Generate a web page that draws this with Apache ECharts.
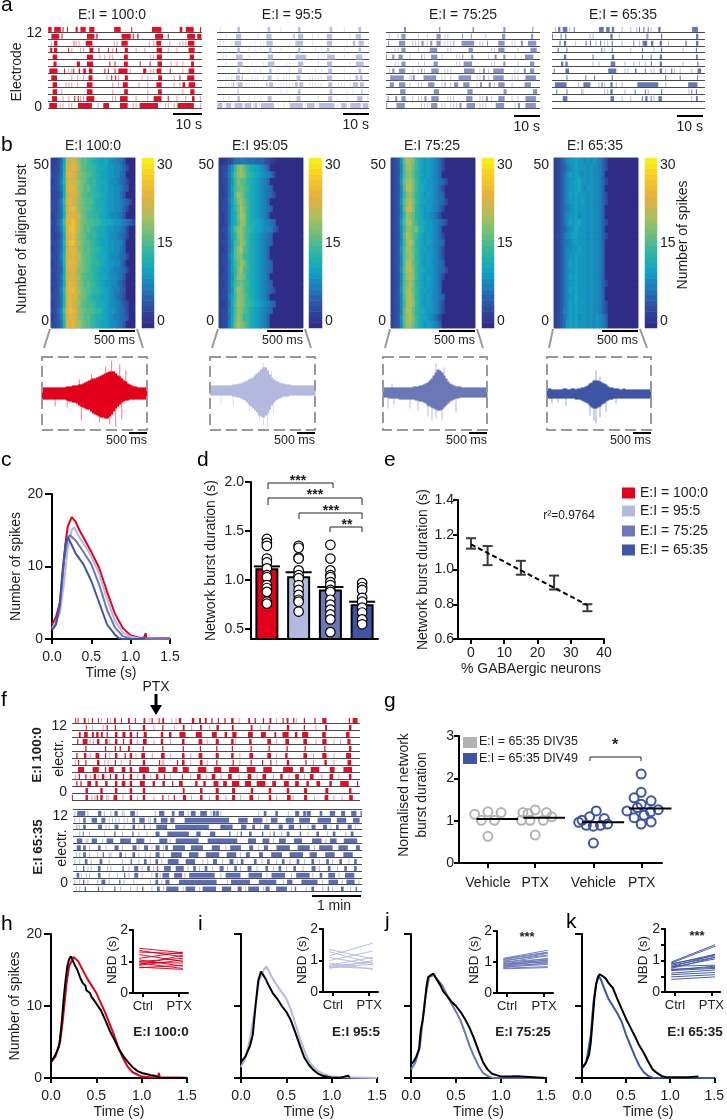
<!DOCTYPE html>
<html><head><meta charset="utf-8">
<script src="https://cdn.jsdelivr.net/npm/echarts@6/dist/echarts.min.js"></script>
<style>html,body{margin:0;padding:0;background:#fff}#c{width:727px;height:1120px}</style></head>
<body><div id="c"></div><script>
// ---------- panel a rasters: rows top to bottom, solid = start,end pairs (s), faint = tick times (s)
const aSolid100=[
[0,1.3,2,4.5,5,5.3,6.5,6.8,9.4,10.2,11,13,14,16,22.5,25,28.5,28.8,35.4,39,45,46,47,50,52,52.4],
[1,4,4.6,5,13.2,16,16.5,17,25,28.5,29,29.4,30.5,31,36.5,39.5,41,41.3,47.5,50.5,51,52.6],
[2,3.3,12.8,15.3,25,27.4,37,38.8,47.8,50.2],
[.7,1.5,2,3.2,6.9,7.2,14.1,15.6,17.3,17.6,20.5,20.8,23.3,23.6,26.2,27.4,37.1,39.1,48,50.3],
[1.5,3.2,13.2,15.5,25.9,27.4,37.1,39.1,48.4,50.1],
[1.8,3,9.8,11,13.2,15.6,21,21.3,22.8,23.1,25.9,27.4,31.4,31.7,34.8,35.1,37.4,39.1,48.9,50],
[.3,3.4,5.5,5.8,8.6,9,10.5,11,12,13,13.9,15.3,19.3,19.6,20.5,20.8,22.8,23.1,24,27.4,32.5,33.7,37.1,38.9,41.7,42,48,50.2],
[1,3.2,13.8,15.3,21.6,22,23,23.3,26.2,27.4,37.6,39.1,45,45.3,47.5,50.2],
[1.5,3.2,13.2,15.3,25.5,27.4,37,39,46,47,48,50.5],
[1.5,3.2,13.2,15.3,26,27.4,37.6,39,48.6,50.2],
[1.3,3.2,9,9.3,10.2,10.5,13,16,24.5,27.4,36,39,41,41.3,49.2,50.2],
[.3,3.2,10,15.3,18.8,21,24.5,27.4,31,38,44,50.2]];
const aFaint100=[[],[],[1,8.5,9,9.5,10.5,22.5,23.5,34.5,36,41.5,45,46,47],[8,11,12,22,30,33,41,44],[17.6,19.3,21,22,35,36],[42,44,46],[7,8,24,28,35,36,46],[8,10,12,20,24,32,34,43],[6,7,8,10,22,24,31,34,43,45],[4.5,22,34,46],[5,7,11,12,22,23,30,34,44,47,52],[4,5,7,8,17,29,30,40,41,43,52]];
const aSolid95=[
[7,8,17.5,18.5,28,29,39,40,49,50],
[6.5,8.5,17,19,26.5,27,28,30,38,40,48,50],
[6,8.5,17,19.5,27,30,38,40,47,48,49,51],
[7,8,18,19,28,29,38,39,49,50],
[6.5,9,17.5,19.5,27,31,38,41,48,50.5],
[7,9,17.5,20,28,30,38,40,48,51],
[7,8,18,19,28,29.5,38.5,40,49,50],
[6.5,8,8.5,9,17.5,19,27.5,29,38,40,48,49,49.5,50.5],
[5.5,6,7,9,17,17.5,18,19.5,27,28,28.5,30,38.5,40,47,49,49.5,51],
[7,7.5,28,29,39,40,50,50.5],
[7,8,17.5,19,27.5,29,38.5,40,48.5,50.5],
[0,2,3,5,6,9,9.5,12,13,14,15,20,25,30,31,34,35,41,43,45,46,50,50.5,52.6]];
const aFaint95=[[1,22,44],[3,14,26,33,35,46],[1,2,5,13,15,16,25,33,45],[2,3,11,13,15,22,34,36,44],[2,3,11,25,31,35,36,37,44],[3,12,16,24,25,35,46],[11,13,15,21,25,34,36,44],[3,4,5,12,13,14,16,21,23,24,25,32,33,34,35,36,44,46],[3,4,5,10,11,12,13,14,22,23,24,25,26,32,33,34,35,36,42,43,44,46],[22,24,45,47],[2,4,11,13,15,25,35,45,52],[2.5,5.5,9.2,12.5,14.5,21,23,30.5,34.5,41.5,42.5,45.5,50.2]];
const aSolid75=[
[6,7,18,18.7,29.5,30.2,40,41,50,50.5],
[5,7,17,19,26,26.4,29,29.4,39.5,41,49.5,50.5],
[0.7,1,4,7,12,13,15,16,17,19,23,23.4,25,31,34.5,35,38,41,46,47,48,52],
[5,7,14.5,18,28,30,38,41,49,52],
[0,.4,2,3,4,6,12,12.4,15,18,26,26.5,29,30,37,38,40,41,47,51],
[5,7,16,18,26,30,40,41,49,51],
[2,3,4,7,12,12.4,15,18.5,26,31,33,34,36,41,47,48,49,51],
[.5,7,9,10,12,18,24,30,33,34,36,41,47,52],
[1,3,4,7,14,17,20,20.4,23,25,26,29,32,33,35,36,38,41,47,50],
[4.5,7,16,18.5,27.5,30,40,41.5,50,52],
[.5,1,3,4,5,7,13,14,15,18.5,27,30,34,35,38,41,47,52],
[0,.5,3,7,15,18,25,26,27,31,37,41,45,46,47,52]];
const aFaint75=[[],[1,4,11,14,20,21,34],[9,10,11,14,20,21,22,32,33,43,44],[3,4,11,21,22,36,37,45],[8,13,19,24,25,35,44],[3,4,11,13,24,25,36,37,45],[1,9,11,12,13,20,21,22,32,35,44,45],[8,8.5,19,20,22,31,32,35,43,44,45],[6,8,11,12,19,22,31,37,43],[],[9,11,12,21,22,23,32,33,36,43,45],[12,13,14,19,20,22,23,24,32,33,34,44]];
const aSolid65=[
[2,3,3.5,5.5,7.5,7.8,16,18,18.5,20,20.5,21.5,30,30.3,31.5,31.8,33,33.3,36.5,37.5,48,50.5],
[0,.3,3,3.3,4.5,5,20,21,32.5,33,37.5,38,49.5,50.5],
[2.5,3,4,5,11.5,12,13,13.5,16.5,17,20.5,21,28,28.3,31,33,34,35,37,38,46,46.3,49.5,50.5],
[2,2.3,5,5.3,17,17.3,20.5,21,31,31.3,37.5,38,49.5,50],
[4,5,14,14.3,20.5,21.5,31,31.3,34,34.3,37,38,49.5,50.3],
[3,4,4.5,5.5,20,22,34,34.5,37,38,50,50.5],
[.6,.9,4.5,6,19,22.5,28.5,29,32,32.3,37,38,41,41.5,50,51.5],
[5,5.3,11.5,11.8,14.5,14.8,20.5,21,39,39.3,44,44.3,50,50.3],
[.5,5.5,10.5,13.5,17,17.5,20,21,28.5,37.5,46.5,50.5],
[1.5,1.8,5,5.3,20,21,28.5,28.8,32,32.3,37.5,38,48,48.3,49.5,50],
[3.5,5.5,20,21.5,31,31.3,32,33,34,34.3,36.5,38,49.5,50.3],
[]];
const aFaint65=[[1,6,24,27,29,34],[13,14,23,33],[8,15,18,19,24,30,32,40,46],[2,18,27,35,45],[],[14,16,25,28,30,32,45],[25,26,29,34,35,39,42,44,48],[],[9,16,18,22,24,39],[10,10.5,18,19,25,33,47],[24,27,35,48],[]];
// ---------- panel f rasters, seconds
const fSolid100=[
[4,5,7,8,14,17,24,26,32,33,43,44,51,54,60,61,68,71,77,78,87,90,97,99,106,107,110,113,130,134,146,150,155,158,162,165,170,172,178,180,186,188,194,198,215,218,223,225,233,235,241,244,257,259,262,265,270,272,283,285,296,298,305,312,338,340,342,350],
[17,18,42,44,52,54,70,71,86,90,110,112,135,138,156,159,176,180,195,198,218,221,240,242,262,266,283,285,309,312,338,342],
[8,11,14,20,24,27,29,33,35,38,42,44,52,56,61,66,70,74,79,81,87,92,108,112,118,122,130,140,150,160,170,178,186,190,195,202,214,222,230,238,247,250,256,266,272,276,280,290,305,311,334,340],
[6,8,12,20,30,34,40,44,52,56,62,64,70,74,86,92,108,112,134,138,154,160,175,180,194,198,216,220,238,244,260,266,282,288,305,312,336,341],
[16,18,40,42,52,54,58,60,68,71,86,88,110,112,135,137,156,158,176,178,195,197,218,220,240,242,262,264,284,286,308,310,338,342],
[5,7,14,18,28,34,40,42,52,56,64,66,70,74,84,90,108,114,134,138,154,160,175,180,194,198,216,222,238,244,260,264,282,288,305,312,334,342],
[7,9,16,18,30,34,52,54,70,72,86,90,106,108,128,130,134,138,156,160,176,178,196,198,218,220,232,234,242,244,262,266,285,287,308,312,336,342],
[6,16,24,34,40,42,44,52,60,66,70,74,80,96,104,116,122,130,134,144,152,166,172,184,190,206,212,226,232,246,256,272,278,284,290,304,314,322,330,344],
[8,10,16,18,26,30,36,40,46,48,52,56,62,64,70,74,86,90,102,106,112,114,134,136,152,158,170,176,190,196,214,220,232,238,254,258,272,278,290,296,314,320,338,342],
[5,7,10,12,18,24,28,32,40,44,52,56,60,66,70,74,82,90,98,102,110,114,122,124,130,136,150,154,160,164,172,180,184,190,194,206,210,220,224,238,244,250,258,266,272,278,286,290,298,304,314,318,326,340,348,350],
[16,20,34,38,52,56,70,74,86,90,135,138,156,160,175,180,195,200,218,222,240,244,262,266,283,288,309,314,338,342],
[0,1,16,20,30,32,34,38,50,56,70,74,86,90,110,112,124,126,135,140,156,160,175,180,195,200,216,222,240,244,262,268,283,288,308,314,338,344]];
const fFaint100=[[20,36,47,95,122,127,204,250,274],[25,38,100,125,146,168,230,298],[],[22,26,46,80,100,120,165,200,250,298,320,328],[],[22,46,78,98,120,145,205,250,295,320],[4,40,44,60,110,112,145,165,205,250,295,320],[],[4,22,32,80,96,120,145,164,182,204,226,246,265,284,305,326],[],[],[24,28,42,44,62,80,100,118,146,168,188,206,228,250,270,296,320,330]];
const fSolid65=[
[4,16,30,35,50,55,69,76,104,112,120,124,128,136,143,150,154,164,170,174,174,178,232,236,246,250,270,276,284,290,300,304,280,284,312,320,326,332,338,346,350,352],
[12,16,22,30,34,40,72,76,80,88,98,102,106,116,118,124,130,196,200,214,218,232,240,250,258,270,274,290,296,316,320,334,340,350],
[12,16,30,36,50,56,72,76,86,88,100,116,120,170,178,196,204,212,218,222,232,240,250,256,262,270,276,278,290,296,304,310,320,324,334,340],
[12,13,50,52,72,74,100,106,112,144,150,156,166,174,190,192,204,206,214,218,230,232,244,246,260,264,276,278,296,300,316,320,338,342],
[4,12,22,30,40,50,56,72,76,88,104,116,122,156,160,204,212,224,230,240,250,260,268,280,290,304,312,322,328,348],
[4,10,12,16,30,34,50,56,72,78,86,92,100,106,112,116,120,138,142,160,168,180,190,206,214,220,232,238,246,266,272,290,298,318,322,336,344,350],
[12,16,36,38,56,60,72,76,100,106,118,134,140,154,160,180,186,200,210,216,226,232,240,256,262,282,288,298,306,320,328,342],
[14,18,32,36,70,72,86,90,100,104,114,130,136,150,170,176,190,196,204,208,220,224,236,240,254,258,272,276,290,294,308,312,324,328,342,346],
[12,14,30,34,60,62,74,80,90,94,102,104,110,120,124,136,146,150,160,164,178,184,196,200,212,218,234,238,250,254,268,272,290,296,310,314,330,334,342,346],
[4,8,30,34,62,64,74,80,100,104,108,118,122,134,138,176,184,206,212,232,240,260,270,290,300,304,310,320,330,344],
[12,14,34,40,56,58,100,104,112,118,124,180,190,218,224,250,260,268,276,300,310,324,332,344],
[14,16,30,32,50,52,84,86,102,106,112,130,136,150,156,176,180,194,200,206,212,228,234,240,246,262,270,272,290,294,310,312,326,330,344,346]];
const fFaint65=[[2,18,38,46,60,62,78,100,140,168,180,226,262],[2,8,44,48,52,56,62,66,92,94,236],[4,6,8,40,44,62,80,94,180,184,228,286,314,344],[8,20,38,60,80,90,150,200,240,254,286,310,332],[16,18,36,60,82,94,118,166,244,308],[8,20,40,60,80,96,110,186,226,280,294],[4,8,20,30,44,46,64,80,88,94,110,204,288],[2,8,22,44,60,80,94,108,158,164,182,200,230,248,264,282,300,316,336],[4,18,22,42,46,68,84,98,140,154,170,188,204,224,244,260,280,300,322],[10,16,20,44,54,68,84,96,106,136,180,236,266,292,324],[2,8,18,30,44,62,74,94,108,188,256,304,328,348],[4,8,36,58,70,78,96,110,134,154,184,210,232,266,284,304,316,338]];
// ---------- panel b heat maps: one string per row, top row first, one base-36 digit per time bin
const heat100=[
"2235bkmnkifgedcbaab988764000","2336cmnomjgfeedcbba998875300","3346dmonlihgfedcbaa998865000","2347dlnmkjhgedecbba988765300","3346cmoolihfgedcbab998875400",
"2335cknnmjgfeeddcba998864000","3347emomkihgffdcbba998876530","3346dloplihgfedccba998875300","2346cmnomkhgeeddbba988764000","3358fnoqnjhgffeedcbba9987653",
"2347dmpqmjhfgedcbba998876300","2235cmoplihgedecbba988765300","3346dmpqljhgfedcbaa998875000","2346cloomihfgeddcba998865000","3347dmnolkhgfedcbba988765300",
"2346dmoomjhgfeddcba998864000","3345cmnolihgfedcbaa987765300","2346dlnnkjgfeedcbba988764000","3346cmoolihfgedcba998865300","2347emopljhgfeddcba987754000",
"3346dlonmihgedccbaa987653000","2346dmonkjgfeedcbba988764300","3358fnpomihgffeddba998765300","2347emoolihfgedccba987765400","3346dmnolkhgfedcbaa988764000"];
const heat95=[
"1123466776665554321000000000","23369eijgecba987500000000000","2347afijhedcba98763000000000","23369eigfdcba987500000000000","2236aeghfecba987650000000000",
"22369fjifdcba987653000000000","2337aehjgecba987500000000000","2336adgkhecba987650000000000","2236acgkiecba987500000000000","2236acfjieccba98765000000000",
"2337bfijgedcaa98875300000000","2236adhjgecba987650000000000","23369egjhecba987650000000000","22369fikfecba987500000000000","2337afhiedcba987500000000000",
"2336aegjhecba987650000000000","2236adhkfecba987650000000000","23369eiigdcba987500000000000","2236aeghfecba987650000000000","23369fjifdcba987653000000000",
"2337aeiigecba987500000000000","2236bfjigedcba98765000000000","2337afiifecba987650000000000","2336bfjheecba987500000000000","2337bgkigecba987500000000000"];
const heat75=[
"2349gkjheca9a987530000000000","2348fjjgeca9a987530000000000","2348fiigdca9a987500000000000","2349gjkhecaa9987653000000000","2348fklhecba9987530000000000",
"2348eijgdca9a987650000000000","2349gjlhecaa9987653000000000","2348fknhdca9a987530000000000","2348ejigdca99875300000000000","2349fjkgecba9987653000000000",
"2348eiighdca9987500000000000","2348fkjgeca9a987530000000000","2348ejlhdca9a987650000000000","2349fjjgecaa9987530000000000","2348fijhdca9a987530000000000",
"2348fkkgeca9a987650000000000","2349gkmhecba9987653000000000","2348fjkieca9a987530000000000","2348fikhdca9a987500000000000","2349gjkgecaa9987500000000000",
"2348fjlhdca9a987650000000000","2348ejkieca9a987530000000000","2348gkkgdcba9987530000000000","2349gjlhecaa9875300000000000","2348fjjgeca9a987500000000000"];
const heat65=[
"2346899a9989898753","2345789a9998988753","23468a9a9898988750","2346899ab998988753","2346899ab989988750",
"23468a9a9998988753","2346899a9a98988753","2346789a9998988750","2346899a8998988750","23468a9ab998988753",
"2345789b9998988750","234689aa9998988753","2346789a9998988750","23468899a998988750","2346899a9998988750",
"23468a9a9998988750","2346899a9998988750","23468a9a9998988750","2346899a9998988753","23468a9a9998988750",
"2346899b9998988750","23468a9a9998988753","23478a9a9998988753","23468a9a8998989875","23469a9a9998989875"];
const colorLevels=[0,1,2,3,4,5,6,7,8,9,10,11,12,13,14,15,16,17,18,19,20,21,22,23,24,25,26,27,28,29,30];
const parula=['#2f2d86','#2f4ea1','#1f7ab8','#12a3c3','#2fb6a0','#6ebf7c','#b0bd5c','#e4b03f','#f6c52a','#f7ee17'];
// ---------- panel b burst traces: envelope per time bin
const traceUp=[
[6,6,6,6,6,6,6,6,6,6,6,6,7,7,7,8,8,8,9,9,10,11,12,13,14,15,15,16,17,18,19,20,21,22,22,22,20,18,17,15,13,12,10,9,8,7,7,6,6,6,6,6],
[5,5,5,5,5,5,5,5,5,5,5,6,6,6,7,7,8,9,10,11,12,13,15,17,19,21,23,23,20,16,13,11,10,9,8,7,7,6,6,6,5,5,5,5,5,5,5,5,5,5,5,5],
[5,5,5,5,5,5,5,5,5,5,5,5,5,5,5,6,6,6,7,7,8,9,10,12,14,17,20,23,22,20,17,14,11,9,8,7,6,6,6,5,5,5,5,5,5,5,5,5,5,5,5,5],
[5,5,4,4,4,4,4,4,5,5,4,4,5,5,4,5,5,6,6,7,8,10,11,13,13,13,12,11,10,9,7,6,6,5,5,5,4,4,5,4,4,4,4,4,4,4,4,4,4,4,4,4]];
const traceLo=[
[6,6,6,6,6,6,6,6,6,6,6,6,7,8,8,9,9,10,12,13,14,15,16,16,18,20,21,22,23,24,24,25,25,23,21,18,15,13,11,9,8,7,7,6,6,6,6,6,6,6,6,6],
[5,5,5,5,5,5,5,5,5,5,5,6,6,7,7,8,9,10,12,14,16,18,20,22,25,26,27,25,23,19,15,12,10,9,8,7,6,6,6,5,5,5,5,5,5,5,5,5,5,5,5,5],
[5,5,5,6,6,6,6,6,7,7,7,7,7,7,7,7,8,8,9,9,10,11,13,14,15,16,17,18,18,17,15,13,11,9,8,7,6,6,5,5,5,5,5,5,5,5,5,5,5,5,5,5],
[5,5,5,5,5,5,5,5,5,5,5,5,5,5,6,6,6,7,8,9,10,12,14,15,15,14,13,11,10,8,7,6,6,5,5,5,5,5,5,5,5,5,5,5,5,5,5,5,5,5,5,5]];
const traceSpikes=[
[[18,14],[24,19],[31,27],[34,33],[38,29],[41,23],[6,-13],[12,-14],[19,-27],[28,-29],[33,-31],[36,-33],[39,-26]],
[[22,17],[26,28],[30,19],[5,-13],[11,-16],[19,-20],[24,-30],[26,-35],[28,-36],[31,-24]],
[[2,-16],[5,-12],[13,-16],[17,-18],[22,-24],[24,-28],[26,-26],[29,-27],[4,9],[26,29],[30,25],[36,-20]],
[[2,-10],[5,-9],[9,-12],[24,23],[26,17],[21,-22],[23,-27],[24,-30],[26,-24],[29,-18],[34,-10]]];
const traceMid=[0,3,1,0];
// ---------- panel c and h-k curves: [time s, spikes]
const curve100=[[0,2],[.05,3],[.1,5],[.13,8],[.17,13],[.2,15.5],[.25,16.8],[.3,16.2],[.35,15],[.4,14],[.5,12],[.6,9.8],[.7,6.5],[.75,5],[.8,3.5],[.9,1.5],[1,.5],[1.1,.2],[1.17,.15],[1.19,.8],[1.2,.15],[1.5,.1]];
const curve95=[[0,1.5],[.05,2.5],[.1,3.5],[.15,7.5],[.2,12.5],[.25,15],[.28,15.4],[.35,14],[.45,12.3],[.5,11.4],[.6,9],[.7,5.5],[.8,2.5],[.9,.9],[1,.3],[1.1,.1],[1.5,0]];
const curve75=[[0,1.3],[.05,2],[.1,4.5],[.15,10.5],[.2,14],[.23,14.3],[.3,13.6],[.4,12],[.5,10.3],[.6,7.5],[.7,4],[.8,1.6],[.9,.4],[1,.05],[1.5,0]];
const curve65=[[0,1.2],[.05,2],[.1,5],[.13,9],[.17,13],[.2,14],[.25,13],[.3,11.8],[.4,10.3],[.5,8],[.6,5],[.7,2],[.8,.6],[.85,.1],[.9,0],[1.1,.05],[1.17,.1],[1.18,.3]];
const black100=[[0,2.2],[.03,2.8],[.06,3.5],[.09,4.5],[.1,5.5],[.12,8],[.14,11],[.16,13.5],[.18,15.5],[.2,16.5],[.22,16.9],[.24,16.3],[.27,15.5],[.29,15],[.32,14],[.35,13.2],[.38,12.8],[.39,12.2],[.43,11.8],[.45,11.2],[.48,10.7],[.5,10.5],[.55,9.4],[.6,8],[.65,6.5],[.7,5.3],[.75,4],[.8,3],[.85,2.2],[.9,1.5],[.95,1],[1,.7],[1.05,.55],[1.1,.4],[1.15,.3],[1.2,.05],[1.5,0]];
const red100=[[0,2.2],[.05,3],[.1,5],[.13,8],[.17,13],[.2,15.5],[.25,16.8],[.3,16.2],[.35,15],[.4,13.8],[.5,11.8],[.6,9],[.7,5.8],[.75,4],[.8,2.6],[.85,1.5],[.9,.8],[1,.2],[1.1,.1],[1.18,.1],[1.19,.7],[1.2,.1],[1.5,.05]];
const black95=[[0,2.2],[.05,3],[.1,4.5],[.13,6],[.16,10],[.19,13.5],[.22,14.8],[.24,14.9],[.27,13.8],[.3,13],[.35,11.8],[.4,11],[.45,10],[.5,9.2],[.55,8],[.6,6.3],[.65,4.5],[.7,2.8],[.75,1.8],[.8,1.1],[.85,.6],[.9,.3],[1,.05],[1.1,.05],[1.18,.3],[1.2,.1]];
const violet95=[[0,1.5],[.05,2.8],[.1,5.5],[.13,7.8],[.17,11],[.2,13.5],[.25,15],[.28,15.5],[.3,15],[.35,13.8],[.4,12.8],[.5,11],[.55,9.5],[.6,7.5],[.65,5.5],[.7,3.8],[.75,2.3],[.8,1.5],[.85,1],[.9,.6],[.95,.4],[1,.2],[1.1,.1],[1.5,0]];
const black75=[[0,1.9],[.03,2.3],[.06,3],[.09,4],[.1,5.5],[.11,6.8],[.13,8],[.15,10],[.17,12.5],[.19,14],[.22,14.3],[.25,14.5],[.28,13.8],[.32,13],[.36,12],[.4,11.4],[.45,10.6],[.5,10],[.55,9.2],[.6,8.2],[.65,7],[.7,5.5],[.75,3.8],[.8,2.2],[.85,1.2],[.9,.6],[.95,.4],[1,.2],[1.1,.2],[1.18,.25],[1.2,.1],[1.5,0]];
const mid75=[[0,1.2],[.05,2.2],[.1,4.5],[.15,10.5],[.2,14],[.25,14.3],[.3,13.6],[.35,12.8],[.4,11.5],[.45,10.3],[.5,9.2],[.55,8],[.6,6.3],[.65,4.5],[.7,3],[.75,1.7],[.8,.7],[.85,.3],[.9,.05],[1.5,0]];
const black65=[[0,1.4],[.04,2],[.08,3.2],[.1,5],[.12,8],[.14,11],[.16,13],[.18,14],[.2,14.4],[.23,14.2],[.27,13.8],[.3,13.2],[.35,12.5],[.4,11],[.45,9.6],[.5,8.2],[.55,7],[.6,5.8],[.65,4.5],[.7,3.5],[.75,2.3],[.8,1.2],[.85,.7],[.9,.3],[.95,.1],[1,.1],[1.2,.1],[1.32,.2]];
const blue65=[[0,1.3],[.05,2.3],[.1,6],[.13,10.5],[.16,13],[.19,14.2],[.22,13.5],[.25,12.5],[.3,11],[.35,10],[.4,9],[.45,7.8],[.5,6],[.55,4.5],[.6,3],[.65,1.7],[.7,.8],[.75,.3],[.8,.05],[1.5,0]];
// ---------- panel d
const barMeans=[1.12,1.04,.905,.755];
const barSem=[1.14,1.08,.93,.78];
const barDots=[
[1.42,1.38,1.35,1.22,1.18,1.12,1.05,1.03,.95,.92,.88,.78,.76],
[1.35,1.33,1.23,1.22,1.1,1.05,1.02,.95,.9,.85,.8,.78,.68],
[1.36,1.22,1.1,1.05,1.03,.98,.95,.9,.88,.8,.75,.7,.65,.6,.47],
[.97,.93,.9,.82,.78,.72,.67,.6,.55]];
// ---------- panel e
const gabaX=[0,5,15,25,35];
const gabaMean=[1.15,1.08,1.01,.925,.78];
const gabaErr=[.03,.055,.04,.04,.02];
const gabaFit=[[0,1.145],[35,.795]];
// ---------- panel g
const gTickPos=[1,2,3.23,4.25];
const gTickText=['Vehicle','PTX','Vehicle','PTX'];
const gGrey=[[.72,1.15],[1,1.21],[1.28,1.19],[.86,1.01],[1.14,1.01],[1,.63],[1.74,1.19],[2,1.25],[2.24,1.19],[1.71,1.01],[1.89,1.01],[2.17,1.01],[2.35,1.09],[1.85,1.17],[2,.66]];
const gBlue=[[3.29,1.23],[3.15,1.09],[2.99,1.01],[3.46,1.05],[3.08,.89],[3.23,.87],[3.38,.89],[3.53,.92],[3.23,.47],[2.92,.96],[4.24,2.1],[4.24,1.67],[4.09,1.54],[4.45,1.47],[4.24,1.39],[4.16,1.31],[3.94,1.23],[4.6,1.26],[4.44,1.21],[4.09,1.07],[4.3,1.13],[4.45,.97],[4.24,.92]];
const gMedians=[[.76,1.64,1.04],[1.75,2.63,1.07],[2.99,3.88,.96],[3.98,4.88,1.29]];
// ---------- insets h-k paired values: [Ctrl, PTX]
const pairs100=[[1.42,1.28],[1.35,1.15],[1.3,1.25],[1.22,1],[1.1,1.3],[1.05,.85],[1,1.1],[.98,.95],[.95,.78],[.9,1.2],[.88,1.05],[.82,.75],[.8,.88]];
const pairs95=[[1.35,1.05],[1.28,.9],[1.15,1.55],[1.1,.85],[1,1.3],[.92,.72],[.85,1.1],[.82,.95],[.8,.75],[.78,.88],[.75,1]];
const pairs75=[[1.12,1.38],[1.1,1.32],[1.08,1.3],[1.05,1.22],[1.02,1.28],[1,1.1],[.98,1.2],[.96,1.05],[.94,1],[.92,1.12],[.9,1.02],[.88,.95],[.86,1.08],[.84,.92],[.82,.98],[.8,.85],[.78,.82]];
const pairs65=[[.95,1.5],[.92,1.45],[.9,1.15],[.88,1.2],[.85,1.1],[.82,.85],[.8,1.18],[.78,1.05],[.75,1.1],[.72,.78],[.7,.82],[.68,.75],[.6,.7],[.55,.62],[.48,.55],[.4,.48]];

// ---------- helpers
const FONT='"Liberation Sans"',INK='#1d1d1b';
const RED='#e2001a',VIO='#b4b9df',MID='#6b78b8',BLU='#3f54a5';
const grids=[],xAxes=[],yAxes=[],series=[],gfx=[],heatIdx=[];
function addGrid(b,x,y){const g=grids.length;grids.push({left:b[0],top:b[1],width:b[2]-b[0],height:b[3]-b[1]});
  x.gridIndex=g;y.gridIndex=g;xAxes.push(x);yAxes.push(y);return {xAxisIndex:xAxes.length-1,yAxisIndex:yAxes.length-1,g};}
function txt(x,y,s,o){o=o||{};gfx.push({type:'text',x,y,rotation:o.rot?Math.PI/2:0,silent:true,z:20,style:{text:s,fill:o.fill||INK,font:(o.w||'normal')+' '+(o.size||14)+'px '+FONT,align:o.align||'center',verticalAlign:'middle'}});}
function line(x1,y1,x2,y2,c,w,dash){gfx.push({type:'line',silent:true,z:20,shape:{x1,y1,x2,y2},style:{stroke:c||'#000',lineWidth:w||2,lineDash:dash}});}
function poly(points,c,w){gfx.push({type:'polyline',silent:true,z:20,shape:{points},style:{stroke:c||'#000',lineWidth:w||1,fill:null}});}
function box(x,y,w,h,fill){gfx.push({type:'rect',silent:true,z:20,shape:{x,y,width:w,height:h},style:{fill}});}
const hidden=(min,max)=>({type:'value',show:false,min,max,splitLine:{show:false}});
const lab=(size)=>({color:INK,fontFamily:FONT,fontSize:size||14});
function axisCommon(o){return Object.assign({type:'value',splitLine:{show:false},axisLine:{show:true,onZero:false,lineStyle:{color:'#000',width:2}},axisTick:{show:true,length:5,lineStyle:{color:'#000',width:2}},nameTextStyle:{color:INK,fontFamily:FONT,fontSize:14}},o);}

function raster(b,xmax,solid,faint,color,yOpt,showTop,look){
  const L=look||{alpha:1,keep:1};
  const a=addGrid(b,hidden(0,xmax),{type:'value',min:0,max:12,interval:1,axisLine:{show:false},axisTick:{show:false},
    splitLine:{show:true,showMaxLine:!!showTop,lineStyle:{color:'#4a4a4a',width:1}},
    axisLabel:yOpt?{show:true,customValues:yOpt.at,margin:yOpt.margin,formatter:v=>v>5?'12':'0',...lab(14)}:{show:false}});
  const data=[];
  faint.forEach((r,i)=>r.forEach(t=>data.push([t,t+.3,11-i,.4])));
  solid.forEach((r,i)=>{for(let k=0;k<r.length;k+=2)data.push([r[k],r[k+1],11-i,L.alpha]);});
  series.push({type:'custom',xAxisIndex:a.xAxisIndex,yAxisIndex:a.yAxisIndex,silent:true,animation:false,data,
    renderItem:(p,api)=>{const s=api.coord([api.value(0),api.value(2)]),e=api.coord([api.value(1),api.value(2)+.72]);
      const full=e[0]-s[0],w=Math.max(1,full*L.keep);
      return {type:'rect',shape:{x:s[0]+(full-w)/2,y:e[1],width:w,height:s[1]-e[1]},style:{fill:color,opacity:api.value(3)}};}});
}
function heat(b,cb,rows,ymargin){
  const cols=Array.from({length:28},(_,i)=>i),rowIdx=rows.map((_,i)=>i);
  const a=addGrid(b,{type:'category',show:false,data:cols},{type:'category',show:false,data:rowIdx});
  grids[a.g].show=true;grids[a.g].borderColor='#8f90c4';grids[a.g].borderWidth=1;grids[a.g].backgroundColor='#2f2d86';
  yAxes.push({type:'value',gridIndex:a.g,min:0,max:50,interval:50,position:'left',axisLine:{show:false},axisTick:{show:false},splitLine:{show:false},axisLabel:{margin:ymargin,verticalAlignMaxLabel:'top',verticalAlignMinLabel:'bottom',...lab(14)}});
  const data=[];
  rows.forEach((s,i)=>{for(let c=0;c<28;c++)data.push([c,rows.length-1-i,c<s.length?parseInt(s[c],36):0]);});
  heatIdx.push(series.length);
  series.push({type:'heatmap',xAxisIndex:a.xAxisIndex,yAxisIndex:a.yAxisIndex,data,silent:true,progressive:0,animation:false});
  const c=addGrid(cb,{type:'category',show:false,data:[0]},{type:'category',show:false,data:colorLevels});
  yAxes.push({type:'value',gridIndex:c.g,min:0,max:30,interval:15,position:'right',axisLine:{show:false},axisTick:{show:false},splitLine:{show:false},axisLabel:{margin:3,verticalAlignMaxLabel:'top',verticalAlignMinLabel:'bottom',...lab(14)}});
  heatIdx.push(series.length);
  series.push({type:'heatmap',xAxisIndex:c.xAxisIndex,yAxisIndex:c.yAxisIndex,data:colorLevels.map((v,i)=>[0,i,v]),silent:true,progressive:0,animation:false});
}
function trace(b,i,color){
  const a=addGrid(b,hidden(0,51),hidden(-36.5,36.5));
  const mid=traceMid[i],data=[],sp=[];
  traceUp[i].forEach((u,k)=>data.push([k,mid-traceLo[i][k]*1,mid+u]));
  traceSpikes[i].forEach(s=>sp.push(s[1]>0?[s[0],mid,mid+s[1]]:[s[0],mid+s[1],mid]));
  const rend=(w,op)=>(p,api)=>{const l=api.coord([api.value(0),api.value(1)]),h=api.coord([api.value(0),api.value(2)]);
    return {type:'rect',shape:{x:l[0]-w/2,y:h[1],width:w,height:l[1]-h[1]},style:{fill:color,opacity:op}};};
  series.push({type:'custom',xAxisIndex:a.xAxisIndex,yAxisIndex:a.yAxisIndex,silent:true,animation:false,data:sp,renderItem:rend(1,.5)});
  series.push({type:'custom',xAxisIndex:a.xAxisIndex,yAxisIndex:a.yAxisIndex,silent:true,animation:false,data,renderItem:rend(3,1)});
}
function curves(b,list,opt){
  opt=opt||{};
  const a=addGrid(b,axisCommon({min:0,max:1.5,interval:.5,name:'Time (s)',nameLocation:'middle',nameGap:27,axisLabel:{margin:11,formatter:v=>v.toFixed(1),...lab(14)}}),
    axisCommon({min:0,max:20,interval:10,axisTick:{show:true,length:7,lineStyle:{color:'#000',width:2}},axisLabel:{show:opt.yLabels!==false,margin:9,...lab(14)},name:opt.yName||'',nameLocation:'middle',nameGap:25}));
  list.forEach(c=>series.push({type:'line',xAxisIndex:a.xAxisIndex,yAxisIndex:a.yAxisIndex,data:c[0],showSymbol:false,silent:true,animation:false,lineStyle:{color:c[1],width:c[2]||2},z:c[3]||3}));
}
function inset(b,pairs,color,minor){
  const unit=(b[2]-b[0])*.66,mn=1-(b[2]-b[0])*.18/unit,mx=mn+(b[2]-b[0])/unit;
  const a=addGrid(b,axisCommon({min:mn,max:mx,axisTick:{show:true,length:4,customValues:[1,2],lineStyle:{color:'#000',width:2}},axisLabel:{customValues:[1,2],margin:7,formatter:v=>v===1?'Ctrl':'PTX',...lab(13)}}),
    axisCommon({min:0,max:2,interval:1,axisTick:{show:true,length:4,customValues:minor?[0,.5,1,1.5,2]:[0,1,2],lineStyle:{color:'#000',width:2}},axisLabel:{margin:5,...lab(14)}}));
  series.push({type:'custom',xAxisIndex:a.xAxisIndex,yAxisIndex:a.yAxisIndex,silent:true,animation:false,data:pairs,
    renderItem:(p,api)=>{const s=api.coord([.9,api.value(0)]),e=api.coord([2.1,api.value(1)]);
      return {type:'line',shape:{x1:s[0],y1:s[1],x2:e[0],y2:e[1]},style:{stroke:color,lineWidth:1,opacity:.95}};}});
}
function bracket(x1,x2,y,d1,d2,c){poly([[x1,y+d1],[x1,y],[x2,y],[x2,y+d2]],c||'#222',1);}

// ---------- panel letters
[['a',1,12],['b',1,152],['c',1,467],['d',197,467],['e',384,467],['f',1,707],['g',384,708],['h',1,931],['i',198,931],['j',385,928],['k',566,929]].forEach(l=>txt(l[1],l[2]-7,l[0],{size:21,align:'left',fill:'#000'}));

// ---------- a
raster([48,25,202,108],52.7,aSolid100,aFaint100,RED,{at:[.14,10.87],margin:6},false,{alpha:.95,keep:.9});
raster([217,25,369,108],52.7,aSolid95,aFaint95,VIO,null,false,{alpha:.95,keep:.9});
raster([386,25,540,108],52.7,aSolid75,aFaint75,MID,null,false,{alpha:.8,keep:.72});
raster([552,25,705,108],52.7,aSolid65,aFaint65,BLU,null,false,{alpha:.8,keep:.8});
[[112,'E:I = 100:0'],[292,'E:I = 95:5'],[463,'E:I = 75:25'],[623,'E:I = 65:35']].forEach(t=>txt(t[0],15,t[1]));
txt(17,72,'Electrode',{rot:true});
[[173,202,114],[343,369,114],[514,540,116],[677,703,116]].forEach(s=>{line(s[0],s[2],s[1],s[2],'#000',2);txt(s[1],s[2]+11,'10 s',{align:'right'});});

// ---------- b
const heatBoxes=[[51,158,135,328],[219,158,303,328],[391,158,475,328],[554,158,638,328]];
const barBoxes=[[142,158,154,328],[309,158,322,328],[482,158,494,328],[645,158,657,328]];
const traceBoxes=[[42,357,147,430],[210,357,315,430],[383,357,487,430],[547,357,651,430]];
const heats=[heat100,heat95,heat75,heat65],traceCols=[RED,VIO,MID,BLU];
['E:I 100:0','E:I 95:05','E:I 75:25','E:I 65:35'].forEach((t,i)=>{
  const h=heatBoxes[i],d=traceBoxes[i];
  heat(h,barBoxes[i],heats[i],i?5:2);
  txt((h[0]+h[2])/2-(i?1:0),146,t);
  line(h[2]-36,331,h[2],331,'#000',2);txt(h[2],341,'500 ms',{align:'right',size:12.5});
  line(h[0]-1,329,d[0]+2,348,'#999',2);line(h[2]+2,329,d[2]-4,348,'#999',2);
  trace([d[0]+1,d[1],d[2]-1,d[3]],i,traceCols[i]);
  gfx.push({type:'rect',silent:true,z:20,shape:{x:d[0],y:d[1],width:d[2]-d[0],height:d[3]-d[1]},style:{fill:null,stroke:'#999',lineWidth:2,lineDash:[11,5]}});
  line(d[2]-18,433,d[2],433,'#000',2);txt(d[2],441,'500 ms',{align:'right',size:12.5});
});
txt(22,239,'Number of aligned burst',{rot:true});
txt(683,235,'Number of spikes',{rot:true});

// ---------- c
curves([52,494,170,639],[[curve100,RED],[curve95,VIO],[curve75,MID],[curve65,BLU]],{yName:'Number of spikes'});

// ---------- d
const dAxis=addGrid([251,482,378,639],{type:'category',data:['100:0','95:5','75:25','65:35'],axisLine:{lineStyle:{color:'#000',width:2}},axisTick:{show:false},axisLabel:{show:false}},
  axisCommon({min:.4,max:2,axisTick:{show:true,length:6,customValues:[.5,1,1.5,2],lineStyle:{color:'#000',width:2}},axisLabel:{customValues:[.5,1,1.5,2],margin:7,formatter:v=>v.toFixed(1),...lab(14)},name:'Network burst duration (s)',nameLocation:'middle',nameGap:33}));
const dCols=[RED,VIO,MID,BLU];
series.push({type:'bar',xAxisIndex:dAxis.xAxisIndex,yAxisIndex:dAxis.yAxisIndex,barWidth:23,silent:true,animation:false,z:2,
  data:barMeans.map((v,i)=>({value:v,itemStyle:{color:dCols[i],borderColor:'#000',borderWidth:2}}))});
series.push({type:'custom',xAxisIndex:dAxis.xAxisIndex,yAxisIndex:dAxis.yAxisIndex,silent:true,animation:false,z:3,data:barSem.map((v,i)=>[i,v]),
  renderItem:(p,api)=>{const c=api.coord([api.value(0),api.value(1)]),b=api.coord([api.value(0),barMeans[p.dataIndex]]);
    return {type:'group',children:[{type:'rect',shape:{x:c[0]-13,y:c[1],width:26,height:Math.max(0,b[1]-c[1]-1)},style:{fill:'#fff'}},{type:'rect',shape:{x:c[0]-13,y:c[1]-1,width:26,height:2},style:{fill:'#000'}}]};}});
series.push({type:'scatter',xAxisIndex:dAxis.xAxisIndex,yAxisIndex:dAxis.yAxisIndex,silent:true,animation:false,z:4,symbolSize:9.5,
  itemStyle:{color:'#fff',borderColor:'#000',borderWidth:1.2,opacity:1},data:barDots.flatMap((r,i)=>r.map(v=>[i,v]))});
bracket(268,333,483,6,5);txt(298,481,'***',{size:14,w:'bold'});
bracket(268,362,498,7,7);txt(315,495,'***',{size:14,w:'bold'});
bracket(299,362,513,6,6);txt(331,511,'***',{size:14,w:'bold'});
bracket(330,362,527,5,5);txt(347,525,'**',{size:14,w:'bold'});

// ---------- e
const eAxis=addGrid([458,500,604,639],axisCommon({min:-3.9,max:40,axisTick:{show:true,length:5,customValues:[0,10,20,30,40],lineStyle:{color:'#000',width:2}},axisLabel:{customValues:[0,10,20,30,40],margin:7,...lab(14)},name:'% GABAergic neurons',nameLocation:'middle',nameGap:23}),
  axisCommon({min:.6,max:1.4,interval:.2,axisLabel:{margin:4,formatter:v=>v.toFixed(1),...lab(14)},name:'Network burst duration (s)',nameLocation:'middle',nameGap:26}));
series.push({type:'custom',xAxisIndex:eAxis.xAxisIndex,yAxisIndex:eAxis.yAxisIndex,silent:true,animation:false,data:gabaX.map((x,i)=>[x,gabaMean[i]-gabaErr[i],gabaMean[i]+gabaErr[i]]),
  renderItem:(p,api)=>{const l=api.coord([api.value(0),api.value(1)]),h=api.coord([api.value(0),api.value(2)]);const st={stroke:'#3a3a3a',lineWidth:2};
    return {type:'group',children:[{type:'line',shape:{x1:l[0],y1:l[1],x2:h[0],y2:h[1]},style:st},{type:'line',shape:{x1:l[0]-5,y1:l[1],x2:l[0]+5,y2:l[1]},style:st},{type:'line',shape:{x1:h[0]-5,y1:h[1],x2:h[0]+5,y2:h[1]},style:st}]};}});
series.push({type:'line',xAxisIndex:eAxis.xAxisIndex,yAxisIndex:eAxis.yAxisIndex,data:gabaFit,showSymbol:false,silent:true,animation:false,lineStyle:{color:'#000',width:2,type:[5,3]}});
txt(569,516,'r²=0.9764',{size:12});
[[493,RED,'E:I = 100:0'],[511,VIO,'E:I = 95:5'],[531,MID,'E:I = 75:25'],[550,BLU,'E:I = 65:35']].forEach(l=>{box(622,l[0]-5.5,13,11,l[1]);txt(640,l[0],l[2],{align:'left'});});

// ---------- f
raster([72,716,360,800],352,fSolid100,fFaint100,RED,{at:[1.14,10.57],margin:5},false,{alpha:.95,keep:.75});
raster([73,809,362,891.5],352,fSolid65,fFaint65,BLU,{at:[1.15,10.9],margin:5},true,{alpha:.85,keep:.82});
txt(156,687,'PTX');
line(156,694,156,708,'#000',3);
gfx.push({type:'polygon',silent:true,z:20,shape:{points:[[150,705],[162,705],[156,715]]},style:{fill:'#000'}});
txt(37,755,'E:I 100:0',{rot:true,w:'bold',size:13.5});
txt(59,758,'electr.',{rot:true});
txt(38,847,'E:I 65:35',{rot:true,w:'bold',size:13.5});
txt(62,848,'electr.',{rot:true});
line(312,896,361,896,'#000',2);txt(334,906,'1 min');

// ---------- g
const gAxis=addGrid([459,736,662,863],axisCommon({min:.39,max:4.68,axisTick:{show:true,length:5,customValues:gTickPos,lineStyle:{color:'#000',width:2}},axisLabel:{customValues:gTickPos,margin:13,formatter:v=>gTickText[gTickPos.indexOf(v)],...lab(14)}}),
  axisCommon({min:0,max:3,interval:1,axisLabel:{margin:5,...lab(14)}}));
[[gGrey,'#b3b3b3'],[gBlue,BLU]].forEach(g=>series.push({type:'scatter',xAxisIndex:gAxis.xAxisIndex,yAxisIndex:gAxis.yAxisIndex,data:g[0],silent:true,animation:false,symbolSize:9,itemStyle:{color:'rgba(0,0,0,0)',borderColor:g[1],borderWidth:2,opacity:1}}));
series.push({type:'custom',xAxisIndex:gAxis.xAxisIndex,yAxisIndex:gAxis.yAxisIndex,silent:true,animation:false,z:5,data:gMedians,
  renderItem:(p,api)=>{const s=api.coord([api.value(0),api.value(2)]),e=api.coord([api.value(1),api.value(2)]);return {type:'line',shape:{x1:s[0],y1:s[1],x2:e[0],y2:e[1]},style:{stroke:'#000',lineWidth:2}};}});
box(463,737,14,11,'#b3b3b3');txt(479,742,'E:I = 65:35 DIV35',{align:'left',size:12.5});
box(463,753,14,11,BLU);txt(479,759,'E:I = 65:35 DIV49',{align:'left',size:12.5});
bracket(590,641,757,4,4);txt(615,746,'*',{w:'bold',size:16});
txt(404,795,'Normalised network',{rot:true});
txt(422,795,'burst duration',{rot:true});

// ---------- h-k
curves([51,934,187,1078],[[red100,RED],[black100,'#000',2,4]],{yName:'Number of spikes'});
curves([241,934,377,1078],[[violet95,VIO],[black95,'#000',2,4]],{yLabels:false});
curves([411,934,546,1078],[[mid75,MID],[black75,'#000',2,4]],{yLabels:false});
curves([582,934,718,1078],[[blue65,BLU],[black65,'#000',2,4]],{yLabels:false});
inset([133,930,188,993],pairs100,RED);
inset([323,929,378,992],pairs95,VIO);
inset([497,931,553,993],pairs75,MID);
inset([665,929,722,992],pairs65,BLU,true);
[[112,960],[302,960],[474,960],[643,960]].forEach(p=>txt(p[0],p[1],'NBD (s)',{rot:true,size:13.5}));
txt(527,937,'***',{w:'bold',size:13});txt(697,936,'***',{w:'bold',size:13});
[[161,'E:I 100:0'],[356,'E:I 95:5'],[523,'E:I 75:25'],[695,'E:I 65:35']].forEach(p=>txt(p[0],1032,p[1],{w:'bold',size:13.5}));

const chart=echarts.init(document.getElementById('c'),null,{renderer:'canvas'});
chart.setOption({animation:false,backgroundColor:'#fff',textStyle:{fontFamily:FONT},grid:grids,xAxis:xAxes,yAxis:yAxes,series,graphic:gfx,
  visualMap:{type:'continuous',show:false,min:0,max:30,seriesIndex:heatIdx,inRange:{color:parula}}});
</script></body></html>
